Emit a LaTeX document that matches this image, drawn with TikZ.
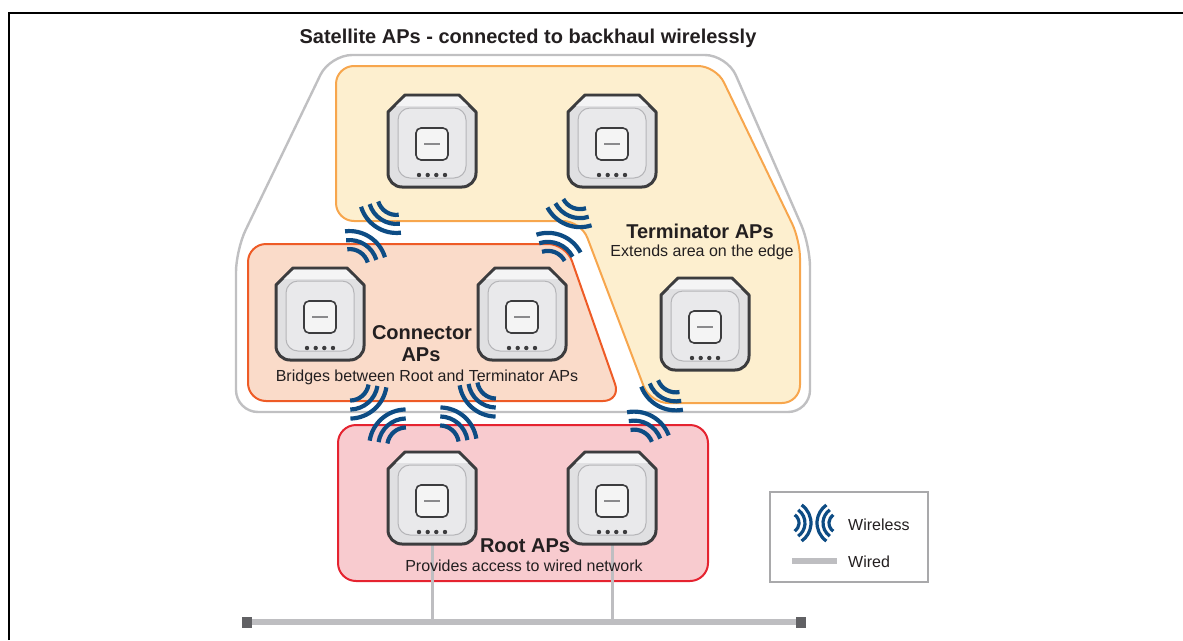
\documentclass[tikz,border=0pt]{standalone}
\usepackage{fontspec}
\setmainfont{Liberation Sans}
\definecolor{termfill}{HTML}{FDEFCF}
\definecolor{termline}{HTML}{F7A64D}
\definecolor{connfill}{HTML}{FADBC9}
\definecolor{connline}{HTML}{EE5B26}
\definecolor{rootfill}{HTML}{F8CBCF}
\definecolor{rootline}{HTML}{E52330}
\definecolor{satline}{HTML}{C0C0C2}
\definecolor{wavecol}{HTML}{0D4C84}
\definecolor{apgray}{HTML}{E0E0E2}
\definecolor{aptop}{HTML}{F4F4F5}
\definecolor{apinner}{HTML}{E9E9EB}
\definecolor{aprim}{HTML}{B5B5B8}
\definecolor{apface}{HTML}{F4F4F4}
\definecolor{apedge}{HTML}{3C3C3E}
\definecolor{apline}{HTML}{8A8A8C}
\definecolor{wiregray}{HTML}{BEBEC1}
\definecolor{busendcol}{HTML}{616164}
\definecolor{legendline}{HTML}{A9A9AB}
\definecolor{textcol}{HTML}{231F20}
\begin{document}
\begin{tikzpicture}[x=1pt,y=-1pt,
  region/.style={line width=2pt, rounded corners=18},
  satregion/.style={draw=satline, line width=2.4pt, rounded corners=22},
  termregion/.style={region, fill=termfill, draw=termline},
  connregion/.style={region, fill=connfill, draw=connline},
  rootregion/.style={region, fill=rootfill, draw=rootline},
  wave/.style={draw=wavecol, line width=4.2pt},
  wavesmall/.style={draw=wavecol, line width=3.2pt},
  wired/.style={draw=wiregray, line width=5.5pt},
  drop/.style={draw=wiregray, line width=3pt},
  busend/.style={fill=busendcol, minimum width=10pt, minimum height=11pt, inner sep=0pt},
  head/.style={font=\fontsize{20}{24}\selectfont\bfseries, text=textcol, inner sep=0pt, anchor=base},
  sub/.style={font=\fontsize{16}{19}\selectfont, text=textcol, inner sep=0pt, anchor=base},
  legendbox/.style={draw=legendline, line width=1.3pt, fill=white, minimum width=158pt, minimum height=90pt, inner sep=0pt},
  ap/.pic={
    \path[fill=apgray, draw=apedge, line width=3pt, line join=round]
      (-27,-46) -- (27,-46) -- (44,-29) -- (44,32)
      arc[start angle=0, end angle=90, radius=14] -- (-30,46)
      arc[start angle=90, end angle=180, radius=14] -- (-44,-29) -- cycle;
    \fill[aptop] (-26,-44.4) -- (26,-44.4) -- (36,-35) -- (-36,-35) -- cycle;
    \draw[fill=apinner, draw=aprim, line width=1pt, rounded corners=12] (-34,-33) rectangle (34,37);
    \draw[fill=apface, draw=apedge, line width=1.6pt, rounded corners=5] (-16,-13) rectangle (16,19);
    \draw[apline, line width=1.5pt] (-8,3) -- (8,3);
    \foreach \dx in {-13,-4.3,4.3,13} \fill[apedge] (\dx,34) circle[radius=2.2];
  },
  wlink/.pic={
    \foreach \r in {19,28,37}{
      \draw[wave] (-43,0) ++(-40:\r) arc[start angle=-40, end angle=40, radius=\r];
      \draw[wave] (43,0) ++(140:\r) arc[start angle=140, end angle=220, radius=\r];
    }
  },
  wlegend/.pic={
    \foreach \r in {10,16,22}{
      \draw[wavesmall] (-25,0) ++(-55:\r) arc[start angle=-55, end angle=55, radius=\r];
      \draw[wavesmall] (25,0) ++(125:\r) arc[start angle=125, end angle=235, radius=\r];
    }
  }
]
\useasboundingbox (0,0) rectangle (1183,640);

% page frame
\coordinate (frameBL) at (9,640);
\coordinate (frameTL) at (9,13);
\coordinate (frameTR) at (1183,13);
\draw[black, line width=1.5pt] (frameBL) -- (frameTL) -- (frameTR);

% satellite group outline
\draw[satregion] (330,55) -- (727,55) -- (810,245) -- (810,412) -- (236,412) -- (236,250) -- cycle;

% terminator, connector and root zones
\path[termregion] (336,66) -- (716,66) -- (800,240) -- (800,403) -- (650,403) -- (581,221) -- (336,221) -- cycle;
\path[connregion] (248,244) -- (566,244) -- (621,401) -- (248,401) -- cycle;
\path[rootregion] (338,425) rectangle (708,581);

% wired backbone
\node[busend] (busL) at (247,622) {};
\node[busend] (busR) at (801,622) {};
\coordinate (R1) at (432,498);
\coordinate (R2) at (612,498);
\draw[drop] (R1) -- (R1 |- busL);
\draw[drop] (R2) -- (R2 |- busL);
\draw[wired] (busL.east) -- (busR.west);

% access points
\pic at (432,141) {ap};
\pic at (612,141) {ap};
\pic at (705,324) {ap};
\pic at (320,314) {ap};
\pic at (522,314) {ap};
\pic at (R1) {ap};
\pic at (R2) {ap};

% wireless backhaul links
\pic[rotate=237] at (373,232) {wlink};
\pic[rotate=248] at (564,230) {wlink};
\pic[rotate=311] at (378,414) {wlink};
\pic[rotate=229] at (468,412) {wlink};
\pic[rotate=241] at (655,411) {wlink};

% labels
\node[head] (title) at (528,43) {Satellite APs - connected to backhaul wirelessly};
\node[head] (termT) at (700,238) {Terminator APs};
\node[sub] (termS) at (702,256) {Extends area on the edge};
\node[head] (connT1) at (422,339) {Connector};
\node[head] (connT2) at (421,361) {APs};
\node[sub] (connS) at (427,381) {Bridges between Root and Terminator APs};
\node[head] (rootT) at (525,552) {Root APs};
\node[sub] (rootS) at (524,571) {Provides access to wired network};

% legend
\node[legendbox] (legend) at (849,537) {};
\pic at (814,523) {wlegend};
\coordinate (lgA) at (792,561);
\coordinate (lgB) at (837,561);
\draw[wired] (lgA) -- (lgB);
\node[sub, anchor=base west] (lgWireless) at (848,530) {Wireless};
\node[sub, anchor=base west] (lgWired) at (848,567) {Wired};
\end{tikzpicture}
\end{document}
